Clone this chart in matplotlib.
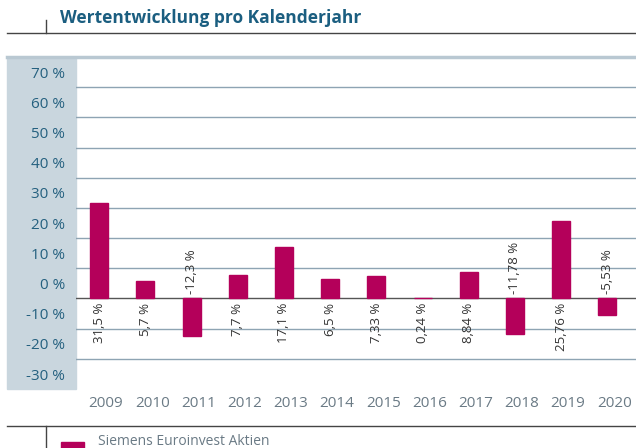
import matplotlib.pyplot as plt
from matplotlib.patches import Rectangle
from matplotlib.lines import Line2D
from matplotlib.transforms import blended_transform_factory

years = ['2009', '2010', '2011', '2012', '2013', '2014', '2015', '2016', '2017', '2018', '2019', '2020']
returns = [31.5, 5.7, -12.3, 7.7, 17.1, 6.5, 7.33, 0.24, 8.84, -11.78, 25.76, -5.53]
value_labels = ['31,5 %', '5,7 %', '-12,3 %', '7,7 %', '17,1 %', '6,5 %', '7,33 %',
                '0,24 %', '8,84 %', '-11,78 %', '25,76 %', '-5,53 %']
y_ticks = [70, 60, 50, 40, 30, 20, 10, 0, -10, -20, -30]
grid_values = [70, 60, 50, 40, 30, 20, 10, -10, -20]

plt.rcParams['font.family'] = ['Open Sans', 'DejaVu Sans']

W, H = 636, 448
fig = plt.figure(figsize=(6.36, 4.48), dpi=100)

def fx(px):
    return px / W

def fy(py):
    return 1 - py / H

bar_color = '#b4005a'
band_color = '#c9d6de'
grid_color = '#8ea4b3'
ylab_color = '#24607f'
year_color = '#6a7a85'

# header
fig.text(fx(60), fy(18), 'Wertentwicklung pro Kalenderjahr', fontsize=12.5,
         fontweight='bold', color='#1b5e80', va='center', ha='left')
fig.add_artist(Line2D([fx(7), 1], [fy(33), fy(33)], color='#444444', lw=1))
fig.add_artist(Line2D([fx(46), fx(46)], [fy(20), fy(33)], color='#444444', lw=1))

# y label band
fig.add_artist(Rectangle((fx(7), fy(389)), fx(76) - fx(7), fy(57) - fy(389),
                         color=band_color, zorder=0))
fig.add_artist(Line2D([fx(7), 1], [fy(57), fy(57)], color='#b9c8d2', lw=2.5))

ax = fig.add_axes([fx(76), fy(389), 1 - fx(76), fy(57) - fy(389)])
ax.set_xlim(-0.5, 11.62)
ax.set_ylim(-30, 80)
ax.axis('off')

for g in grid_values:
    ax.axhline(g, color=grid_color, lw=1, zorder=1)
ax.axhline(0, color='#555555', lw=1, zorder=2)

x = list(range(len(years)))
ax.bar(x, returns, width=0.39, color=bar_color, edgecolor=bar_color,
       linewidth=1, zorder=3)

for xi, v, lab in zip(x, returns, value_labels):
    if v >= 0:
        ax.annotate(lab, (xi, 0), xytext=(0, -3), textcoords='offset points',
                    rotation=90, ha='center', va='top', fontsize=9.5, color='#333333')
    else:
        ax.annotate(lab, (xi, 0), xytext=(0, 3), textcoords='offset points',
                    rotation=90, ha='center', va='bottom', fontsize=9.5, color='#333333')

trans_y = blended_transform_factory(ax.transAxes, ax.transData)
for t in y_ticks:
    ax.text(-0.02, t + 4.3, f'{t} %', transform=trans_y, ha='right', va='center',
            fontsize=11, color=ylab_color)

trans_x = blended_transform_factory(ax.transData, fig.transFigure)
for xi, yr in zip(x, years):
    ax.text(xi + 0.15, fy(403), yr, transform=trans_x, ha='center', va='center',
            fontsize=11, color=year_color)

# footer legend
fig.add_artist(Line2D([fx(7), 1], [fy(426), fy(426)], color='#444444', lw=1))
fig.add_artist(Line2D([fx(46), fx(46)], [fy(426), fy(448)], color='#444444', lw=1))
fig.add_artist(Rectangle((fx(61), fy(448)), fx(84) - fx(61), fy(442) - fy(448),
                         color=bar_color))
fig.text(fx(98), fy(441), 'Siemens Euroinvest Aktien', fontsize=10,
         color=year_color, va='center', ha='left')

fig.savefig('out.png', dpi=100)
